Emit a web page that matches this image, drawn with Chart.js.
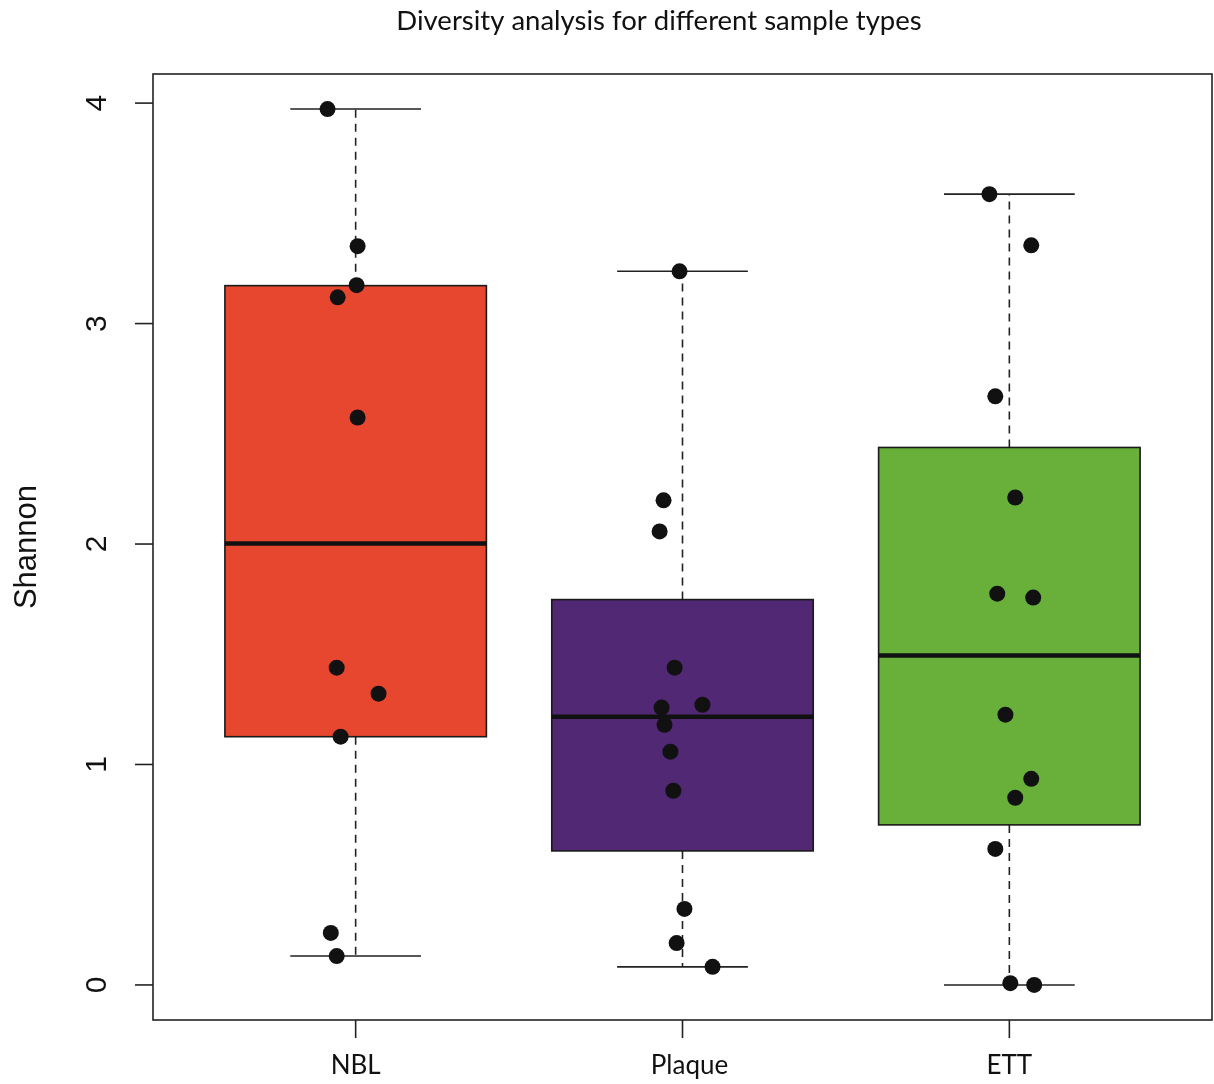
<!DOCTYPE html>
<html lang="en">
<head>
    <meta charset="UTF-8">
    <title>Diversity analysis for different sample types</title>
    <style>
        body { margin: 0; background: #fff; overflow: hidden; }
        #wrap { width: 1214px; height: 1084px; }
        canvas { display: block; }
    </style>
</head>
<body>
    <div id="wrap">
        <canvas id="diversityChart" width="1214" height="1084"></canvas>
    </div>

    <script src="https://cdn.jsdelivr.net/npm/chart.js"></script>
    <script>
        const chartTitle = 'Diversity analysis for different sample types';
        const yTitle = 'Shannon';
        const groups = ['NBL', 'Plaque', 'ETT'];
        const boxColors = ['#e8472f', '#502873', '#68b03a'];
        const yTicks = [0, 1, 2, 3, 4];

        // box statistics per group
        const whiskerLow = [0.131, 0.082, 0.0];
        const q1 = [1.126, 0.608, 0.726];
        const median = [2.002, 1.217, 1.494];
        const q3 = [3.172, 1.748, 2.438];
        const whiskerHigh = [3.973, 3.237, 3.587];

        // sample points (Shannon values) and their horizontal jitter
        const nblValues = [3.973, 3.351, 3.174, 3.119, 2.574, 1.439, 1.321, 1.126, 0.236, 0.131];
        const nblJitter = [-0.086, 0.006, 0.003, -0.055, 0.006, -0.058, 0.070, -0.046, -0.076, -0.058];
        const plaqueValues = [3.237, 2.198, 2.057, 1.439, 1.258, 1.271, 1.180, 1.058, 0.881, 0.345, 0.190, 0.082];
        const plaqueJitter = [-0.009, -0.058, -0.070, -0.024, -0.064, 0.061, -0.055, -0.037, -0.028, 0.006, -0.018, 0.092];
        const ettValues = [3.587, 3.355, 2.670, 2.211, 1.775, 1.757, 1.226, 0.935, 0.849, 0.617, 0.008, 0.0];
        const ettJitter = [-0.061, 0.067, -0.043, 0.018, -0.037, 0.073, -0.012, 0.067, 0.018, -0.043, 0.003, 0.076];

        const pointSets = [
            [nblValues, nblJitter],
            [plaqueValues, plaqueJitter],
            [ettValues, ettJitter]
        ];

        const points = [];
        pointSets.forEach(([vals, jit], i) => {
            vals.forEach((v, k) => points.push({ x: i + 1 + jit[k], y: v }));
        });

        const boxWidth = 0.8;
        const capWidth = 0.4;

        const boxplotPlugin = {
            id: 'boxplot',
            beforeDatasetsDraw(chart) {
                const ctx = chart.ctx;
                const xs = chart.scales.x, ys = chart.scales.y;
                ctx.save();
                groups.forEach((g, i) => {
                    const cx = xs.getPixelForValue(i + 1);
                    const left = xs.getPixelForValue(i + 1 - boxWidth / 2);
                    const right = xs.getPixelForValue(i + 1 + boxWidth / 2);
                    const capL = xs.getPixelForValue(i + 1 - capWidth / 2);
                    const capR = xs.getPixelForValue(i + 1 + capWidth / 2);
                    const yLo = ys.getPixelForValue(whiskerLow[i]);
                    const yQ1 = ys.getPixelForValue(q1[i]);
                    const yMed = ys.getPixelForValue(median[i]);
                    const yQ3 = ys.getPixelForValue(q3[i]);
                    const yHi = ys.getPixelForValue(whiskerHigh[i]);

                    // dashed whiskers
                    ctx.strokeStyle = '#222';
                    ctx.lineWidth = 1.6;
                    ctx.setLineDash([8, 6]);
                    ctx.beginPath();
                    ctx.moveTo(cx, yQ3); ctx.lineTo(cx, yHi);
                    ctx.moveTo(cx, yQ1); ctx.lineTo(cx, yLo);
                    ctx.stroke();
                    ctx.setLineDash([]);

                    // caps
                    ctx.beginPath();
                    ctx.moveTo(capL, yHi); ctx.lineTo(capR, yHi);
                    ctx.moveTo(capL, yLo); ctx.lineTo(capR, yLo);
                    ctx.stroke();

                    // box
                    ctx.fillStyle = boxColors[i];
                    ctx.fillRect(left, yQ3, right - left, yQ1 - yQ3);
                    ctx.strokeStyle = '#1a1a1a';
                    ctx.lineWidth = 1.6;
                    ctx.strokeRect(left, yQ3, right - left, yQ1 - yQ3);

                    // median
                    ctx.lineWidth = 4.5;
                    ctx.strokeStyle = '#111';
                    ctx.beginPath();
                    ctx.moveTo(left, yMed); ctx.lineTo(right, yMed);
                    ctx.stroke();
                });
                ctx.restore();
            },
            afterDatasetsDraw(chart) {
                const ctx = chart.ctx;
                const a = chart.chartArea;
                const xs = chart.scales.x, ys = chart.scales.y;
                ctx.save();
                ctx.strokeStyle = '#222';
                ctx.lineWidth = 1.6;
                ctx.strokeRect(a.left, a.top, a.right - a.left, a.bottom - a.top);

                ctx.fillStyle = '#111';
                // y ticks and rotated labels
                ctx.font = '30px "Liberation Sans", Arial, sans-serif';
                ctx.textAlign = 'center';
                ctx.textBaseline = 'middle';
                yTicks.forEach(t => {
                    const py = ys.getPixelForValue(t);
                    ctx.beginPath();
                    ctx.moveTo(a.left - 18, py); ctx.lineTo(a.left, py);
                    ctx.stroke();
                    ctx.save();
                    ctx.translate(98, py);
                    ctx.rotate(-Math.PI / 2);
                    ctx.fillText(String(t), 0, 0);
                    ctx.restore();
                });

                // y title
                ctx.save();
                ctx.font = '31px "Liberation Sans", Arial, sans-serif';
                ctx.translate(27, (a.top + a.bottom) / 2);
                ctx.rotate(-Math.PI / 2);
                ctx.fillText(yTitle, 0, 0);
                ctx.restore();

                // x ticks and labels
                ctx.font = '26px Lato, "Open Sans", sans-serif';
                groups.forEach((g, i) => {
                    const px = xs.getPixelForValue(i + 1);
                    ctx.beginPath();
                    ctx.moveTo(px, a.bottom); ctx.lineTo(px, a.bottom + 18);
                    ctx.stroke();
                    ctx.fillText(g, px + (i === 1 ? 7 : 0), 1066);
                });

                // title
                ctx.font = '27.5px Lato, "Open Sans", sans-serif';
                ctx.fillText(chartTitle, 659, 21);
                ctx.restore();
            }
        };

        const config = {
            type: 'scatter',
            data: {
                datasets: [{
                    data: points,
                    pointRadius: 8,
                    pointHoverRadius: 8,
                    backgroundColor: '#111',
                    borderWidth: 0
                }]
            },
            options: {
                responsive: false,
                animation: false,
                layout: {
                    autoPadding: false,
                    padding: { left: 153, top: 74, right: 2, bottom: 64 }
                },
                plugins: {
                    legend: { display: false },
                    tooltip: { enabled: false }
                },
                scales: {
                    x: { type: 'linear', min: 0.38, max: 3.62, display: false },
                    y: { type: 'linear', min: -0.159, max: 4.132, display: false }
                }
            },
            plugins: [boxplotPlugin]
        };

        const diversityChart = new Chart(document.getElementById('diversityChart'), config);
    </script>
</body>
</html>
